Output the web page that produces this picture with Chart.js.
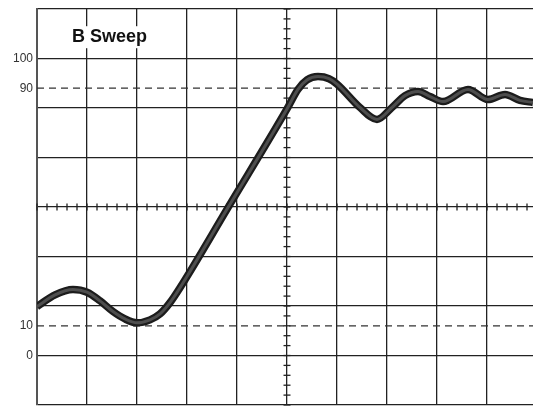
<!DOCTYPE html>
<html>
<head>
<meta charset="utf-8">
<script src="https://cdn.jsdelivr.net/npm/chart.js@4"></script>
<style>
  html, body { margin: 0; padding: 0; background: #fff; }
  canvas { display: block; }
</style>
</head>
<body>
<canvas id="scope" width="533" height="406"></canvas>
<script>
// trace: x in divisions, y in percent of amplitude
const traceX = [0, 0.36, 0.72, 1.0, 1.26, 1.52, 1.76, 2.0, 2.26, 2.46, 2.66, 2.86, 3.82, 5.0, 5.22, 5.4, 5.62, 5.84, 6.0, 6.46, 6.8, 7.1, 7.36, 7.62, 7.86, 8.12, 8.62, 9.02, 9.36, 9.66, 9.92];
const traceY = [16.5, 20.4, 22.2, 21.3, 18.4, 14.8, 12.3, 11.0, 12.0, 14.0, 17.8, 22.8, 49.8, 83.0, 89.6, 92.8, 93.9, 93.2, 91.4, 83.5, 79.5, 83.5, 87.5, 88.9, 87.2, 85.5, 89.6, 86.2, 87.9, 85.9, 85.2];

const guideLevels = [10, 90];       // dashed reference lines
const labelledLevels = [0, 10, 90, 100];
const title = "B Sweep";

const DIV = 100 / 6;                // one vertical division in percent
const X_MAX = 9.92;                 // screen is cut just before the 10th division
const gridX = [0, 1, 2, 3, 4, 5, 6, 7, 8, 9];
const gridY = [0, 1, 2, 3, 4, 5, 6, 7, 8].map(i => (i - 1) * DIV);
const CENTER_X = 5;
const CENTER_Y = 3 * DIV;

const INK = "#222";

function near(a, b) { return Math.abs(a - b) < 1e-6; }

const graticule = {
  id: "graticule",
  beforeDatasetsDraw(chart) {
    const { ctx, scales: { x, y } } = chart;
    ctx.save();
    ctx.strokeStyle = INK;
    ctx.lineWidth = 1.3;
    // minor ticks on the center lines, 5 per division
    const cy = y.getPixelForValue(CENTER_Y);
    for (let v = 0; v <= X_MAX; v += 0.2) {
      const px = x.getPixelForValue(v);
      ctx.beginPath();
      ctx.moveTo(px, cy - 3.5);
      ctx.lineTo(px, cy + 3.5);
      ctx.stroke();
    }
    const cx = x.getPixelForValue(CENTER_X);
    for (let v = -DIV; v <= 7 * DIV + 1e-6; v += DIV / 5) {
      const py = y.getPixelForValue(v);
      ctx.beginPath();
      ctx.moveTo(cx - 3.5, py);
      ctx.lineTo(cx + 3.5, py);
      ctx.stroke();
    }
    // title sits on a white patch over the grid
    ctx.font = "bold 18px 'Liberation Sans', Arial, sans-serif";
    ctx.textBaseline = "middle";
    const tx = x.getPixelForValue(0.7);
    const ty = y.getPixelForValue(6.43 * DIV);
    const w = ctx.measureText(title).width;
    ctx.fillStyle = "#fff";
    ctx.fillRect(tx - 4, ty - 11, w + 8, 22);
    ctx.fillStyle = "#111";
    ctx.fillText(title, tx, ty);
    ctx.restore();
  },
};

const traceData = traceX.map((v, i) => ({ x: v, y: traceY[i] }));

const guideSets = guideLevels.map(level => ({
  data: [{ x: 0, y: level }, { x: X_MAX, y: level }],
  borderColor: "#333",
  borderWidth: 1.2,
  borderDash: [7, 5],
  pointRadius: 0,
  order: 3,
}));

new Chart(document.getElementById("scope"), {
  type: "line",
  data: {
    datasets: [
      {
        data: traceData,
        borderColor: "#1c1c1c",
        borderWidth: 7.5,
        cubicInterpolationMode: "monotone",
        pointRadius: 0,
        order: 1,
      },
      {
        data: traceData,
        borderColor: "#4e4e4e",
        borderWidth: 3,
        cubicInterpolationMode: "monotone",
        pointRadius: 0,
        order: 0,
      },
      ...guideSets,
    ],
  },
  options: {
    responsive: false,
    animation: false,
    layout: { padding: { top: 9, right: 0, bottom: 1, left: 0 } },
    plugins: { legend: { display: false }, tooltip: { enabled: false } },
    scales: {
      x: {
        type: "linear",
        min: 0,
        max: X_MAX,
        afterBuildTicks: s => { s.ticks = gridX.map(v => ({ value: v })); },
        afterFit: s => { s.height = 0; s.paddingLeft = 0; s.paddingRight = 0; },
        ticks: { display: false },
        grid: { color: INK, lineWidth: 1.3, drawTicks: false },
        border: { display: false },
      },
      y: {
        type: "linear",
        min: -DIV,
        max: 7 * DIV,
        afterBuildTicks: s => {
          s.ticks = gridY.concat(guideLevels).sort((a, b) => a - b).map(v => ({ value: v }));
        },
        afterFit: s => { s.width = 37; s.paddingTop = 0; s.paddingBottom = 0; },
        ticks: {
          padding: 4,
          color: "#333",
          font: { family: "'Liberation Sans Narrow', 'Liberation Sans', Arial, sans-serif", size: 12 },
          callback: v => (labelledLevels.some(l => near(l, v)) ? String(Math.round(v)) : ""),
        },
        grid: {
          drawTicks: false,
          lineWidth: 1.3,
          color: ctx => (guideLevels.some(l => near(l, ctx.tick.value)) ? "rgba(0,0,0,0)" : INK),
        },
        border: { display: true, color: "#555", width: 2 },
      },
    },
  },
  plugins: [graticule],
});
</script>
</body>
</html>
